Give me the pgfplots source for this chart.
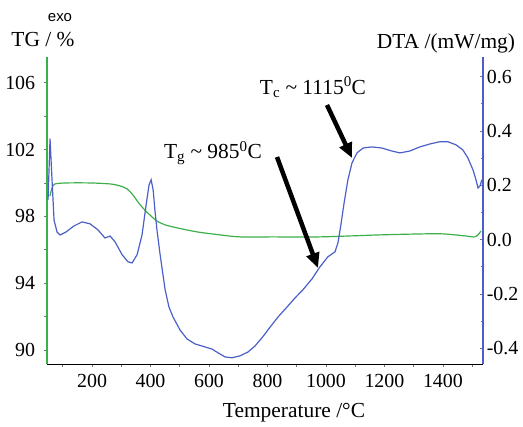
\documentclass[border=0pt]{standalone}
\usepackage{fontspec}
\setmainfont{Liberation Serif}
\newfontfamily\exofont{Liberation Sans}
\usepackage{pgfplots}
\pgfplotsset{compat=1.18}
\usetikzlibrary{arrows.meta}
\definecolor{tggreen}{RGB}{60,175,75}
\definecolor{dtablue}{RGB}{75,95,200}
\begin{document}
\fontsize{20}{24}\selectfont
\begin{tikzpicture}
\begin{axis}[name=ax, scale only axis, width=436bp, height=307bp,
 xmin=46, xmax=1537, ymin=89.16, ymax=107.54,
 axis x line*=bottom, axis y line*=left,
 axis line style={-},
 x axis line style={black, line width=0.8pt},
 y axis line style={tggreen, line width=1.3pt},
 xtick={200,400,...,1400}, xticklabels={200,400,600,800,1000,1200,1400},
 minor xtick={100,300,...,1500},
 ytick={90,94,98,102,106}, yticklabels={90,94,98,102,106},
 minor ytick={92,96,100,104},
 tick style={black!55, line width=0.6pt}, major tick length=3bp, minor tick length=2.5bp,
 tick align=outside,
 yticklabel style={xshift=-2bp},
]
\addplot[tggreen, line width=1.2pt, smooth] coordinates {
(56.4,99.22)(63.2,99.70)(73.5,99.94)(114.5,100.0)(193,100.0)(262,99.94)(296,99.82)(320,99.64)
(340,99.28)(357,98.86)(374,98.50)(398,98.08)(422,97.72)(450,97.49)(491,97.31)(559,97.07)
(638,96.89)(706,96.77)(819,96.77)(979,96.77)(1185,96.89)(1332,96.95)(1400,96.95)(1475,96.83)
(1509,96.77)(1523,96.95)(1530,97.13)
};
\end{axis}
\begin{axis}[scale only axis, width=436bp, height=307bp,
 xmin=46, xmax=1537, ymin=-0.458, ymax=0.672,
 axis x line=none, axis y line*=right,
 axis line style={-},
 y axis line style={dtablue, line width=1.3pt},
 ytick={-0.4,-0.2,0,0.2,0.4,0.6}, yticklabels={-0.4,-0.2,0.0,0.2,0.4,0.6},
 minor ytick={-0.3,-0.1,0.1,0.3,0.5},
 tick style={black!55, line width=0.6pt}, major tick length=3bp, minor tick length=2.5bp,
 tick align=inside,
 yticklabel style={anchor=west, xshift=-3bp},
]
\addplot[dtablue, line width=1.2pt] coordinates {
(49.6,0.146)(56.4,0.371)(63.2,0.220)(70.1,0.072)(80.3,0.028)(90.6,0.017)(111,0.028)(138,0.050)
(166,0.065)(193,0.058)(220,0.036)(244,0.006)(262,0.013)(279,-0.009)(303,-0.056)(323,-0.082)
(337,-0.086)(354,-0.056)(371,0.017)(385,0.128)(395,0.201)(402,0.220)(409,0.183)(415,0.109)
(422,0.036)(432,-0.049)(450,-0.185)(463,-0.248)(477,-0.285)(501,-0.333)(525,-0.366)(552,-0.384)
(586,-0.395)(610,-0.403)(631,-0.417)(655,-0.432)(679,-0.435)(706,-0.428)(733,-0.414)(757,-0.392)
(781,-0.362)(809,-0.322)(836,-0.285)(867,-0.248)(894,-0.215)(921,-0.185)(952,-0.145)(979,-0.101)
(1006,-0.064)(1031,-0.045)(1041,-0.012)(1051,0.054)(1062,0.135)(1075,0.220)(1089,0.282)(1106,0.319)
(1127,0.337)(1157,0.341)(1191,0.337)(1225,0.326)(1253,0.319)(1287,0.326)(1321,0.341)(1356,0.352)
(1389,0.360)(1417,0.360)(1444,0.349)(1468,0.330)(1485,0.301)(1503,0.256)(1513,0.220)(1520,0.190)
(1527,0.198)(1533,0.220)
};
\end{axis}
\begin{scope}[shift={(ax.south west)}, x=1bp, y=1bp, every node/.append style={font=\fontsize{21.5}{25}\selectfont}]
\node[font=\exofont\fontsize{15}{17}\selectfont] at (13,346) {exo};
\node at (-4,324) {TG / \%};
\node at (399,321) {DTA /(mW/mg)};
\node at (247,-49) {Temperature /°C};
\node at (166,211) {T\textsubscript{g} \textasciitilde{} 985\textsuperscript{0}C};
\node at (266,277) {T\textsubscript{c} \textasciitilde{} 1115\textsuperscript{0}C};
\draw[line width=4.5bp, -{Triangle[length=15bp,width=13bp]}] (230,207) -- (271,96);
\draw[line width=4.5bp, -{Triangle[length=15bp,width=13bp]}] (280,259) -- (305,206);
\end{scope}
\pgfresetboundingbox
\path[use as bounding box] (ax.south west) ++(-47bp,-63bp) rectangle ++(523bp,427bp);
\end{tikzpicture}
\end{document}
